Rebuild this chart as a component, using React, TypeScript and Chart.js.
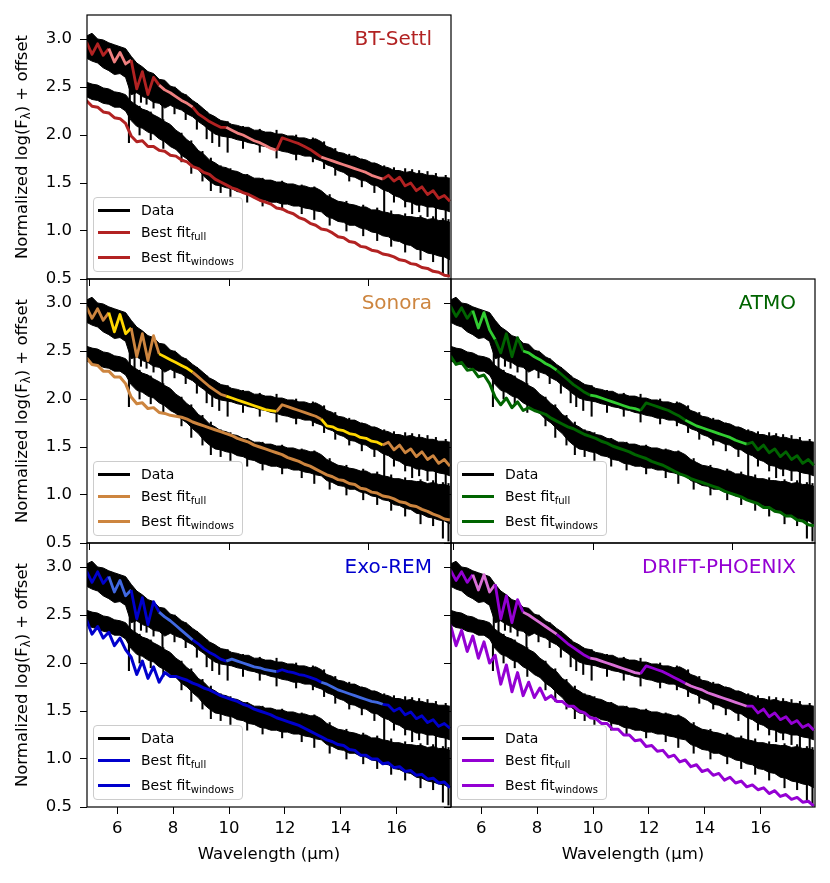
import { useEffect, useRef } from "react";
import { Chart, registerables } from "chart.js";

Chart.register(...registerables);
Chart.defaults.font.family = '"DejaVu Sans", sans-serif';

// wavelength grid (µm) shared by every series
const WAVE = [
  4.9, 5.1, 5.3, 5.5, 5.7, 5.9, 6.1, 6.3, 6.5, 6.7, 6.9,
  7.1, 7.3, 7.5, 7.7, 7.9, 8.1, 8.3, 8.5, 8.7, 8.9, 9.1,
  9.3, 9.5, 9.7, 9.9, 10.1, 10.3, 10.5, 10.7, 10.9, 11.1, 11.3,
  11.5, 11.7, 11.9, 12.1, 12.3, 12.5, 12.7, 12.9, 13.1, 13.3, 13.5,
  13.7, 13.9, 14.1, 14.3, 14.5, 14.7, 14.9, 15.1, 15.3, 15.5, 15.7,
  15.9, 16.1, 16.3, 16.5, 16.7, 16.9, 17.1, 17.3, 17.5, 17.7, 17.9,
];

// fitting windows, drawn in the lighter colour on the upper fit
const WINDOWS = [
  [5.7, 6.5],
  [7.5, 8.7],
  [9.9, 11.7],
  [13.3, 15.5],
];

// observed spectra: upper and lower edges of the noisy band
const UPPER_DATA_HI = [
  3.03, 3.06, 3.0, 2.99, 2.96, 2.94, 2.92, 2.9, 2.82, 2.75, 2.71,
  2.66, 2.64, 2.58, 2.57, 2.51, 2.49, 2.44, 2.41, 2.36, 2.32, 2.27,
  2.22, 2.19, 2.15, 2.14, 2.11, 2.1, 2.08, 2.08, 2.05, 2.05, 2.03,
  2.03, 2.01, 2.01, 1.99, 1.99, 1.97, 1.97, 1.95, 1.96, 1.93, 1.88,
  1.86, 1.82, 1.81, 1.78, 1.78, 1.75, 1.74, 1.71, 1.7, 1.67, 1.66,
  1.63, 1.63, 1.61, 1.62, 1.6, 1.6, 1.58, 1.58, 1.56, 1.56, 1.55,
];
const UPPER_DATA_LO = [
  2.8, 2.77, 2.75, 2.7, 2.67, 2.63, 2.64, 2.6, 2.42, 2.44, 2.4,
  2.38, 2.34, 2.33, 2.28, 2.31, 2.28, 2.26, 2.22, 2.19, 2.14, 2.1,
  2.05, 2.01, 1.99, 1.98, 1.97, 1.95, 1.94, 1.92, 1.91, 1.89, 1.88,
  1.86, 1.85, 1.83, 1.82, 1.8, 1.8, 1.78, 1.78, 1.75, 1.73, 1.69,
  1.67, 1.63, 1.61, 1.57, 1.56, 1.53, 1.52, 1.48, 1.47, 1.43, 1.41,
  1.37, 1.35, 1.31, 1.3, 1.27, 1.27, 1.25, 1.25, 1.23, 1.22, 1.2,
];
const LOWER_DATA_HI = [
  2.55, 2.53, 2.52, 2.49, 2.48, 2.45, 2.44, 2.42, 2.35, 2.31, 2.27,
  2.25, 2.21, 2.18, 2.14, 2.11, 2.05, 2.01, 1.95, 1.91, 1.84, 1.8,
  1.74, 1.71, 1.67, 1.66, 1.63, 1.62, 1.59, 1.58, 1.55, 1.55, 1.53,
  1.53, 1.51, 1.51, 1.49, 1.49, 1.47, 1.47, 1.45, 1.45, 1.42, 1.37,
  1.34, 1.31, 1.3, 1.28, 1.27, 1.25, 1.25, 1.22, 1.22, 1.2, 1.19,
  1.17, 1.17, 1.15, 1.15, 1.14, 1.14, 1.12, 1.13, 1.11, 1.11, 1.09,
];
const LOWER_DATA_LO = [
  2.4, 2.37, 2.36, 2.33, 2.32, 2.29, 2.29, 2.25, 2.15, 2.09, 2.07,
  2.03, 2.01, 1.96, 1.93, 1.88, 1.85, 1.79, 1.75, 1.69, 1.64, 1.57,
  1.52, 1.48, 1.47, 1.45, 1.44, 1.41, 1.4, 1.37, 1.36, 1.33, 1.32,
  1.3, 1.3, 1.28, 1.28, 1.26, 1.26, 1.24, 1.23, 1.21, 1.2, 1.15,
  1.13, 1.1, 1.09, 1.06, 1.06, 1.03, 1.02, 0.99, 0.98, 0.95, 0.94,
  0.9, 0.89, 0.86, 0.85, 0.81, 0.8, 0.77, 0.76, 0.74, 0.73, 0.7,
];

// absorption spikes sticking out of the noisy data band
const UPPER_SPIKE_WAVE = [
  6.45, 6.62, 6.85, 7.05, 7.3, 7.62, 8.05, 8.45, 8.85, 9.2, 9.4, 9.65, 9.95, 10.5, 11.1, 11.7,
  12.4, 13.0, 13.4, 13.8, 14.3, 14.75, 15.2, 15.55, 15.9, 16.3, 16.55, 16.8, 17.1, 17.4, 17.75,
];
const UPPER_SPIKE_TOP = [
  2.82, 2.72, 2.7, 2.66, 2.63, 2.55, 2.5, 2.42, 2.33, 2.24, 2.2, 2.16, 2.14, 2.09, 2.06, 2.05,
  2.0, 1.97, 1.93, 1.86, 1.8, 1.75, 1.71, 1.68, 1.66, 1.65, 1.64, 1.63, 1.62, 1.6, 1.58,
];
const UPPER_SPIKE_BOTTOM = [
  2.36, 2.3, 2.34, 2.32, 2.28, 2.15, 2.22, 2.16, 2.06, 1.96, 1.92, 1.88, 1.82, 1.86, 1.82, 1.76,
  1.74, 1.72, 1.65, 1.58, 1.52, 1.46, 1.4, 1.15, 1.3, 1.25, 1.18, 1.2, 1.15, 1.12, 0.95,
];
const LOWER_SPIKE_WAVE = [
  6.42, 6.8, 7.2, 7.65, 8.3, 8.65, 9.05, 9.35, 9.7, 10.05, 10.65, 11.2, 11.9,
  12.6, 13.05, 13.6, 14.2, 14.8, 15.3, 15.8, 16.3, 16.85, 17.3, 17.65, 17.85,
];
const LOWER_SPIKE_TOP = [
  2.36, 2.3, 2.24, 2.16, 2.02, 1.94, 1.83, 1.76, 1.68, 1.65, 1.59, 1.55, 1.52,
  1.48, 1.46, 1.38, 1.31, 1.27, 1.24, 1.21, 1.18, 1.16, 1.15, 1.13, 1.12,
];
const LOWER_SPIKE_BOTTOM = [
  1.92, 2.0, 1.95, 1.86, 1.72, 1.6, 1.52, 1.42, 1.4, 1.36, 1.3, 1.26, 1.22,
  1.18, 1.12, 1.06, 1.0, 0.95, 0.9, 0.84, 0.78, 0.7, 0.68, 0.55, 0.52,
];

// best fits, upper and lower spectrum, per model grid
const BT_SETTL_UPPER = [
  2.97, 2.84, 2.95, 2.83, 2.9, 2.76, 2.86, 2.74, 2.78, 2.48, 2.66,
  2.42, 2.6, 2.52, 2.47, 2.44, 2.4, 2.36, 2.33, 2.29, 2.22, 2.18,
  2.14, 2.11, 2.08, 2.08, 2.05, 2.02, 2.0, 1.97, 1.94, 1.92, 1.89,
  1.86, 1.84, 1.97, 1.95, 1.93, 1.91, 1.88, 1.85, 1.81, 1.77, 1.75,
  1.73, 1.71, 1.69, 1.67, 1.65, 1.63, 1.61, 1.58, 1.56, 1.54, 1.58,
  1.52, 1.56, 1.47, 1.5, 1.42, 1.46, 1.38, 1.42, 1.34, 1.37, 1.31,
];
const BT_SETTL_LOWER = [
  2.36, 2.3, 2.29, 2.24, 2.23, 2.18, 2.17, 2.12, 1.99, 1.93, 1.94,
  1.88, 1.88, 1.84, 1.83, 1.79, 1.78, 1.74, 1.72, 1.67, 1.65, 1.61,
  1.59, 1.54, 1.51, 1.48, 1.45, 1.43, 1.4, 1.38, 1.35, 1.32, 1.3,
  1.28, 1.24, 1.23, 1.2, 1.18, 1.14, 1.12, 1.08, 1.06, 1.02, 1.01,
  0.98, 0.94, 0.93, 0.89, 0.88, 0.84, 0.83, 0.8, 0.79, 0.76, 0.75,
  0.73, 0.7, 0.69, 0.66, 0.65, 0.62, 0.61, 0.58, 0.57, 0.54, 0.53,
];
const SONORA_UPPER = [
  2.96, 2.84, 2.94, 2.82, 2.9, 2.7, 2.88, 2.68, 2.74, 2.44, 2.68,
  2.4, 2.66, 2.47, 2.44, 2.41, 2.38, 2.35, 2.32, 2.28, 2.23, 2.18,
  2.13, 2.09, 2.05, 2.03, 2.01, 1.99, 1.97, 1.95, 1.93, 1.91, 1.89,
  1.88, 1.87, 1.94, 1.92, 1.9, 1.88, 1.86, 1.84, 1.82, 1.79, 1.72,
  1.71, 1.68, 1.67, 1.64, 1.63, 1.6, 1.59, 1.56, 1.55, 1.52, 1.55,
  1.47, 1.52, 1.44, 1.48, 1.4, 1.45, 1.37, 1.41, 1.33, 1.37, 1.3,
];
const SONORA_LOWER = [
  2.43, 2.36, 2.35, 2.29, 2.29, 2.23, 2.23, 2.16, 2.02, 1.95, 1.96,
  1.9, 1.91, 1.86, 1.85, 1.83, 1.82, 1.81, 1.79, 1.76, 1.74, 1.72,
  1.7, 1.68, 1.66, 1.64, 1.62, 1.59, 1.57, 1.55, 1.52, 1.5, 1.48,
  1.46, 1.44, 1.42, 1.39, 1.37, 1.35, 1.32, 1.3, 1.27, 1.24, 1.21,
  1.19, 1.16, 1.15, 1.12, 1.11, 1.07, 1.06, 1.03, 1.02, 0.99, 0.98,
  0.96, 0.93, 0.92, 0.89, 0.88, 0.85, 0.83, 0.8, 0.78, 0.75, 0.74,
];
const ATMO_UPPER = [
  2.97, 2.86, 2.95, 2.84, 2.92, 2.74, 2.9, 2.72, 2.62, 2.48, 2.68,
  2.44, 2.64, 2.5, 2.48, 2.44, 2.41, 2.37, 2.34, 2.3, 2.25, 2.2,
  2.15, 2.11, 2.07, 2.04, 2.03, 2.01, 1.99, 1.97, 1.95, 1.93, 1.91,
  1.9, 1.88, 1.96, 1.94, 1.92, 1.9, 1.88, 1.85, 1.82, 1.78, 1.75,
  1.72, 1.7, 1.68, 1.66, 1.64, 1.62, 1.6, 1.57, 1.55, 1.53, 1.55,
  1.47, 1.52, 1.44, 1.48, 1.4, 1.45, 1.37, 1.41, 1.33, 1.37, 1.31,
];
const ATMO_LOWER = [
  2.45, 2.36, 2.38, 2.3, 2.31, 2.23, 2.25, 2.16, 2.02, 1.94, 2.01,
  1.91, 1.97, 1.88, 1.91, 1.88, 1.86, 1.84, 1.8, 1.77, 1.74, 1.71,
  1.69, 1.66, 1.63, 1.61, 1.59, 1.56, 1.54, 1.51, 1.49, 1.47, 1.45,
  1.42, 1.4, 1.38, 1.35, 1.33, 1.31, 1.28, 1.25, 1.22, 1.2, 1.17,
  1.15, 1.13, 1.11, 1.09, 1.07, 1.04, 1.02, 1.0, 0.98, 0.95, 0.93,
  0.91, 0.87, 0.87, 0.83, 0.82, 0.78, 0.78, 0.74, 0.73, 0.69, 0.68,
];
const EXOREM_UPPER = [
  2.96, 2.84, 2.95, 2.83, 2.9, 2.74, 2.86, 2.7, 2.76, 2.46, 2.68,
  2.4, 2.64, 2.53, 2.48, 2.44, 2.39, 2.34, 2.29, 2.24, 2.2, 2.15,
  2.11, 2.08, 2.04, 2.02, 2.04, 2.02, 2.0, 1.98, 1.96, 1.95, 1.93,
  1.92, 1.91, 1.93, 1.91, 1.9, 1.88, 1.87, 1.85, 1.83, 1.8, 1.78,
  1.75, 1.72, 1.7, 1.68, 1.66, 1.64, 1.62, 1.6, 1.59, 1.57, 1.56,
  1.5, 1.53, 1.46, 1.49, 1.42, 1.45, 1.38, 1.41, 1.34, 1.37, 1.32,
];
const EXOREM_LOWER = [
  2.45, 2.3, 2.38, 2.26, 2.32, 2.18, 2.26, 2.14, 2.06, 1.88, 2.02,
  1.84, 1.96, 1.8, 1.9, 1.86, 1.86, 1.84, 1.82, 1.79, 1.77, 1.74,
  1.72, 1.69, 1.66, 1.64, 1.62, 1.6, 1.57, 1.55, 1.52, 1.5, 1.48,
  1.46, 1.43, 1.41, 1.39, 1.37, 1.35, 1.32, 1.29, 1.26, 1.23, 1.2,
  1.18, 1.15, 1.14, 1.1, 1.09, 1.04, 1.04, 1.0, 1.0, 0.95, 0.96,
  0.91, 0.92, 0.87, 0.88, 0.83, 0.84, 0.79, 0.8, 0.75, 0.76, 0.7,
];
const DRIFT_UPPER = [
  2.97, 2.86, 2.95, 2.84, 2.92, 2.76, 2.92, 2.74, 2.82, 2.46, 2.7,
  2.42, 2.66, 2.53, 2.5, 2.46, 2.42, 2.38, 2.34, 2.3, 2.25, 2.2,
  2.16, 2.12, 2.08, 2.05, 2.04, 2.02, 2.0, 1.98, 1.96, 1.94, 1.92,
  1.9, 1.89, 1.97, 1.95, 1.93, 1.91, 1.88, 1.85, 1.82, 1.79, 1.76,
  1.74, 1.72, 1.69, 1.67, 1.65, 1.63, 1.61, 1.59, 1.57, 1.55, 1.55,
  1.48, 1.52, 1.44, 1.48, 1.41, 1.44, 1.37, 1.4, 1.33, 1.36, 1.3,
];
const DRIFT_LOWER = [
  2.4, 2.18, 2.34, 2.12, 2.28, 2.05, 2.22, 2.0, 2.08, 1.78, 1.98,
  1.7, 1.9, 1.66, 1.8, 1.64, 1.74, 1.62, 1.66, 1.6, 1.6, 1.55,
  1.55, 1.5, 1.48, 1.43, 1.42, 1.37, 1.37, 1.31, 1.31, 1.25, 1.25,
  1.19, 1.2, 1.13, 1.14, 1.08, 1.09, 1.02, 1.04, 0.97, 0.99, 0.92,
  0.94, 0.87, 0.89, 0.83, 0.85, 0.78, 0.81, 0.75, 0.77, 0.71, 0.73,
  0.68, 0.7, 0.64, 0.67, 0.61, 0.63, 0.58, 0.6, 0.55, 0.56, 0.51,
];

const PANELS = [
  { name: "BT-Settl", row: 0, col: 0, dark: "#b22222", light: "#f08080", upper: BT_SETTL_UPPER, lower: BT_SETTL_LOWER },
  { name: "Sonora", row: 1, col: 0, dark: "#cd853f", light: "#ffd700", upper: SONORA_UPPER, lower: SONORA_LOWER },
  { name: "ATMO", row: 1, col: 1, dark: "#006400", light: "#32cd32", upper: ATMO_UPPER, lower: ATMO_LOWER },
  { name: "Exo-REM", row: 2, col: 0, dark: "#0000cd", light: "#4169e1", upper: EXOREM_UPPER, lower: EXOREM_LOWER },
  { name: "DRIFT-PHOENIX", row: 2, col: 1, dark: "#9400d3", light: "#da70d6", upper: DRIFT_UPPER, lower: DRIFT_LOWER },
];

const AXIS_W = 87;
const PLOT_W = 364;
const PLOT_H = 264;
const PAD_TOP = 15;
const PAD_RIGHT = 15;
const FONT = '"DejaVu Sans", sans-serif';

const inWindow = (x: number) => WINDOWS.some(([a, b]) => x > a && x < b);
const toPoints = (ys: number[]) => WAVE.map((x, i) => ({ x, y: ys[i] }));
const toSpikes = (w: number[], top: number[], bottom: number[]) =>
  w.map((x, i) => ({ x, y: [bottom[i], top[i]] }));

const panelDecor = {
  id: "panelDecor",
  afterDatasetsDraw(chart: any, _args: any, opts: any) {
    const { ctx, chartArea: a } = chart;
    ctx.save();
    ctx.strokeStyle = "#000";
    ctx.lineWidth = 1.2;
    ctx.strokeRect(a.left, a.top, a.right - a.left, a.bottom - a.top);
    ctx.fillStyle = opts.color;
    ctx.font = `20px ${FONT}`;
    ctx.textAlign = "right";
    ctx.textBaseline = "alphabetic";
    ctx.fillText(opts.title, a.right - 19, a.top + 30);
    ctx.restore();
  },
};

function SpectrumPanel({ panel }: { panel: (typeof PANELS)[number] }) {
  const canvasRef = useRef<HTMLCanvasElement>(null);
  const bottomRow = panel.row === 2;
  const axisH = bottomRow ? 76 : 10;
  const width = AXIS_W + PLOT_W + PAD_RIGHT;
  const height = PAD_TOP + PLOT_H + axisH;

  useEffect(() => {
    const ctx = canvasRef.current?.getContext("2d");
    if (!ctx) return;

    const tickGrid = {
      drawOnChartArea: false,
      drawTicks: true,
      tickLength: 7,
      tickColor: "#000",
      tickWidth: 1,
      offset: false,
    };
    const line = { pointRadius: 0, borderJoinStyle: "round", tension: 0 };
    const band = { ...line, borderColor: "#000", borderWidth: 1, order: 1 };
    const spike = { type: "bar", backgroundColor: "#000", barThickness: 1.4, grouped: false, order: 1 };

    const chart = new Chart(ctx, {
      type: "line",
      data: {
        datasets: [
          {
            ...line,
            data: toPoints(panel.upper),
            borderColor: panel.dark,
            borderWidth: 2.8,
            segment: {
              borderColor: (c: any) =>
                inWindow((c.p0.parsed.x + c.p1.parsed.x) / 2) ? panel.light : panel.dark,
            },
            order: 0,
          },
          { ...line, data: toPoints(panel.lower), borderColor: panel.dark, borderWidth: 3, order: 0 },
          { ...band, data: toPoints(UPPER_DATA_HI), fill: false },
          { ...band, data: toPoints(UPPER_DATA_LO), backgroundColor: "#000", fill: "-1" },
          { ...band, data: toPoints(LOWER_DATA_HI), fill: false },
          { ...band, data: toPoints(LOWER_DATA_LO), backgroundColor: "#000", fill: "-1" },
          { ...spike, data: toSpikes(UPPER_SPIKE_WAVE, UPPER_SPIKE_TOP, UPPER_SPIKE_BOTTOM) },
          { ...spike, data: toSpikes(LOWER_SPIKE_WAVE, LOWER_SPIKE_TOP, LOWER_SPIKE_BOTTOM) },
        ] as any,
      },
      options: {
        animation: false,
        responsive: false,
        maintainAspectRatio: false,
        events: [],
        layout: { autoPadding: false, padding: { top: PAD_TOP, right: PAD_RIGHT, left: 0, bottom: 0 } },
        plugins: {
          legend: { display: false },
          tooltip: { enabled: false },
          panelDecor: { title: panel.name, color: panel.dark },
        } as any,
        scales: {
          x: {
            type: "linear",
            min: 4.92,
            max: 17.94,
            offset: false,
            afterFit: (s: any) => {
              s.height = axisH;
              s.paddingLeft = 0;
              s.paddingRight = 0;
            },
            ticks: {
              display: bottomRow,
              stepSize: bottomRow ? 2 : 5,
              includeBounds: false,
              autoSkip: false,
              maxRotation: 0,
              color: "#000",
              font: { size: 16.5 },
              padding: 5,
            },
            grid: tickGrid,
            border: { display: false },
            title: {
              display: bottomRow,
              text: "Wavelength (µm)",
              color: "#000",
              font: { size: 16.5 },
              padding: { top: 0, bottom: 18 },
            },
          },
          y: {
            type: "linear",
            min: 0.5,
            max: 3.25,
            beginAtZero: false,
            afterFit: (s: any) => {
              s.width = AXIS_W;
              s.paddingTop = 0;
              s.paddingBottom = 0;
            },
            ticks: {
              display: panel.col === 0,
              stepSize: 0.5,
              includeBounds: false,
              color: "#000",
              font: { size: 16.5 },
              padding: 8,
              callback: (v: any) => Number(v).toFixed(1),
            },
            grid: tickGrid,
            border: { display: false },
          },
        },
      } as any,
      plugins: [panelDecor],
    });

    return () => {
      chart.destroy();
    };
  }, [panel, axisH]);

  return (
    <canvas
      ref={canvasRef}
      width={width}
      height={height}
      style={{
        position: "absolute",
        left: panel.col * PLOT_W,
        top: panel.row * PLOT_H,
        width,
        height,
      }}
    />
  );
}

function LegendBox({ panel }: { panel: (typeof PANELS)[number] }) {
  const left = AXIS_W + panel.col * PLOT_W + 6;
  const top = PAD_TOP + panel.row * PLOT_H + 182;
  const rows = [
    { color: "#000", label: "Data", sub: "", y: 13 },
    { color: panel.dark, label: "Best fit", sub: "full", y: 35 },
    { color: panel.dark, label: "Best fit", sub: "windows", y: 60 },
  ];
  return (
    <div
      style={{
        position: "absolute",
        left,
        top,
        width: 150,
        height: 75,
        boxSizing: "border-box",
        border: "1px solid #cccccc",
        borderRadius: 4,
        background: "rgba(255,255,255,0.8)",
        fontFamily: FONT,
        fontSize: 14,
        color: "#000",
      }}
    >
      {rows.map((r) => (
        <div key={r.label + r.sub}>
          <div
            style={{
              position: "absolute",
              left: 4,
              top: r.y - 2.5,
              width: 32,
              height: 3,
              background: r.color,
            }}
          />
          <div
            style={{
              position: "absolute",
              left: 47,
              top: r.y - 9,
              lineHeight: "16px",
              whiteSpace: "nowrap",
            }}
          >
            {r.label}
            {r.sub && (
              <sub style={{ fontSize: 10, lineHeight: 0, verticalAlign: "-3px" }}>{r.sub}</sub>
            )}
          </div>
        </div>
      ))}
    </div>
  );
}

function YTitle({ row }: { row: number }) {
  return (
    <div
      style={{
        position: "absolute",
        left: 22,
        top: PAD_TOP + row * PLOT_H + PLOT_H / 2,
        transform: "translate(-50%, -50%) rotate(-90deg)",
        whiteSpace: "nowrap",
        fontFamily: FONT,
        fontSize: 16.5,
        lineHeight: "20px",
        color: "#000",
      }}
    >
      Normalized log(F
      <sub style={{ fontSize: 11.5, lineHeight: 0, verticalAlign: "-3px" }}>λ</sub>) + offset
    </div>
  );
}

export default function App() {
  return (
    <div
      style={{
        position: "absolute",
        left: 0,
        top: 0,
        width: 830,
        height: 883,
        background: "#fff",
        overflow: "hidden",
      }}
    >
      {PANELS.map((p) => (
        <SpectrumPanel key={p.name} panel={p} />
      ))}
      {PANELS.map((p) => (
        <LegendBox key={p.name} panel={p} />
      ))}
      {[0, 1, 2].map((r) => (
        <YTitle key={r} row={r} />
      ))}
    </div>
  );
}
